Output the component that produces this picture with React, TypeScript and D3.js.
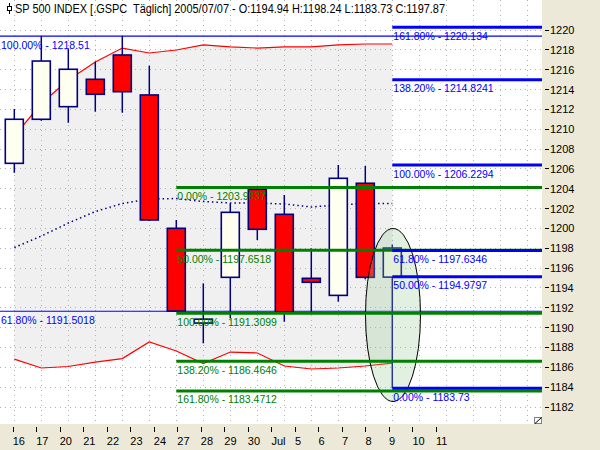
import React from "react";
import * as d3 from "d3";

// ---- data ----
const dates = ["16", "17", "20", "21", "22", "23", "24", "27", "28", "29", "30", "Jul 1", "5", "6", "7"];
const opens = [1206.41, 1210.85, 1212.12, 1214.88, 1217.33, 1213.3, 1199.86, 1190.31, 1194.92, 1203.79, 1201.27, 1194.82, 1193.1, 1204.4, 1194.94];
const highs = [1211.89, 1219.24, 1217.93, 1216.65, 1219.24, 1216.25, 1200.7, 1194.31, 1202.38, 1204.05, 1203.22, 1197.84, 1206.24, 1206.14, 1198.24];
const lows = [1205.46, 1210.7, 1210.5, 1211.61, 1211.51, 1200.6, 1191.45, 1188.27, 1190.82, 1198.68, 1190.44, 1191.45, 1192.46, 1194.72, 1183.73];
const closes = [1210.85, 1216.72, 1215.89, 1213.37, 1213.63, 1200.7, 1191.52, 1190.7, 1201.47, 1199.76, 1191.45, 1194.42, 1204.9, 1194.92, 1197.87];

const upperBand = [1209.16, 1212.44, 1214.81, 1216.62, 1218.03, 1217.53, 1217.83, 1218.34, 1218.14, 1218.03, 1218.14, 1218.14, 1218.34, 1218.44, 1218.44];
const middleBand = [1197.92, 1199.08, 1200.39, 1201.55, 1202.36, 1202.81, 1202.86, 1202.56, 1202.41, 1202.41, 1202.31, 1202.01, 1202.21, 1202.36, 1202.36];
const lowerBand = [1186.68, 1185.78, 1185.93, 1186.38, 1186.73, 1188.4, 1187.49, 1186.23, 1187.39, 1187.29, 1185.98, 1185.68, 1185.78, 1185.98, 1186.28];

const axisLabels = ["16", "17", "20", "21", "22", "23", "24", "27", "28", "29", "30", "Jul", "5", "6", "7", "8", "9", "10", "11"];
const yTicks = [1182, 1184, 1186, 1188, 1190, 1192, 1194, 1196, 1198, 1200, 1202, 1204, 1206, 1208, 1210, 1212, 1214, 1216, 1218, 1220];

// thin blue retracement (full width)
const fibALevels = [1219.24, 1191.5018];
const fibALabels = ["100.00% - 1218.51", "61.80% - 1191.5018"];
// green projection (from 24th)
const fibBLevels = [1203.9837, 1197.6518, 1191.3099, 1186.4646, 1183.4712];
const fibBPcts = ["0.00%", "50.00%", "100.00%", "138.20%", "161.80%"];
// blue projection (from 7th)
const fibCLevels = [1183.73, 1194.9797, 1197.6346, 1206.2294, 1214.8241, 1220.134];
const fibCPcts = ["0.00%", "50.00%", "61.80%", "100.00%", "138.20%", "161.80%"];

const title = "SP 500 INDEX [.GSPC  Täglich] 2005/07/07 - O:1194.94 H:1198.24 L:1183.73 C:1197.87";

export default function App() {
  const W = 600, H = 450;
  const plotR = 542, plotB = 424;
  const y = d3.scaleLinear().domain([1182, 1220]).range([405.5, 28.5]);
  const xi = d3.scaleLinear().domain([0, dates.length - 1]).range([14.3, 392.3]);
  const xAxis = d3.scalePoint<string>().domain(axisLabels).range([12.7, 436]);
  const gridSlots = d3.range(0, 20);
  const font = "'Liberation Sans', Arial, sans-serif";

  const idx = d3.range(dates.length);
  const area = d3.area<number>().x((i) => xi(i)).y0((i) => y(lowerBand[i])).y1((i) => y(upperBand[i]));
  const lineU = d3.line<number>().x((i) => xi(i)).y((i) => y(upperBand[i]));
  const lineM = d3.line<number>().x((i) => xi(i)).y((i) => y(middleBand[i]));
  const lineL = d3.line<number>().x((i) => xi(i)).y((i) => y(lowerBand[i]));

  const navy = "#000080";
  const bodyW = 18;
  const xStartB = xi(6);
  const xStartC = xi(14);

  return (
    <svg width={W} height={H} style={{ position: "fixed", left: 0, top: 0, display: "block" }} fontFamily={font}>
      <rect x={0} y={0} width={W} height={H} fill="#ffffff" />
      {/* band fill */}
      <path d={area(idx) || ""} fill="#f0f0f0" />
      {/* grid */}
      {yTicks.map((t) => (
        <line key={"hg" + t} x1={0} x2={plotR} y1={Math.round(y(t)) + 1.5} y2={Math.round(y(t)) + 1.5} stroke="#b0b0b0" strokeWidth={1} strokeDasharray="1,4" />
      ))}
      {gridSlots.map((i) => (
        <line key={"vg" + i} x1={Math.round(xi(i)) + 0.5} x2={Math.round(xi(i)) + 0.5} y1={0} y2={plotB} stroke="#b0b0b0" strokeWidth={1} strokeDasharray="1,4" />
      ))}
      {/* band lines */}
      <path d={lineU(idx) || ""} fill="none" stroke="#ff0000" strokeWidth={1.2} />
      <path d={lineL(idx) || ""} fill="none" stroke="#ff0000" strokeWidth={1.2} />
      <path d={lineM(idx) || ""} fill="none" stroke={navy} strokeWidth={1.5} strokeDasharray="1.5,3" />
      {/* thin retracement lines */}
      {fibALevels.map((v, k) => (
        <line key={"fa" + k} x1={0} x2={plotR} y1={y(v)} y2={y(v)} stroke="#0000ff" strokeWidth={1.2} />
      ))}
      {/* candles */}
      {idx.map((i) => {
        const up = closes[i] >= opens[i];
        const top = y(Math.max(opens[i], closes[i]));
        const bot = y(Math.min(opens[i], closes[i]));
        const cx = xi(i);
        return (
          <g key={"c" + i}>
            <line x1={cx} x2={cx} y1={y(highs[i])} y2={y(lows[i])} stroke={navy} strokeWidth={1.5} />
            <rect x={cx - bodyW / 2} y={top} width={bodyW} height={Math.max(bot - top, 2)} fill={up ? "#fffff0" : "#ff0000"} stroke={navy} strokeWidth={1.6} />
          </g>
        );
      })}
      {/* ellipse annotation */}
      <ellipse cx={393} cy={315} rx={27.5} ry={86.5} fill="rgba(150,200,150,0.28)" stroke="#000000" strokeWidth={1} />
      {/* thick projection lines */}
      {fibBLevels.map((v, k) => (
        <line key={"fb" + k} x1={xStartB} x2={plotR} y1={y(v)} y2={y(v)} stroke="#008000" strokeWidth={3} />
      ))}
      {fibCLevels.map((v, k) => (
        <line key={"fc" + k} x1={xStartC} x2={plotR} y1={y(v)} y2={y(v)} stroke="#0000ff" strokeWidth={3} />
      ))}
      {/* labels */}
      {fibALevels.map((v, k) => (
        <text key={"fal" + k} x={1} y={y(v) + 12.5} fontSize={10.5} fill="#0000ff">{fibALabels[k]}</text>
      ))}
      {fibBLevels.map((v, k) => (
        <text key={"fbl" + k} x={xStartB + 1} y={y(v) + 12.5} fontSize={10.5} fill="#008000">{fibBPcts[k] + " - " + v}</text>
      ))}
      {fibCLevels.map((v, k) => (
        <text key={"fcl" + k} x={xStartC + 1} y={y(v) + 12.5} fontSize={10.5} fill="#0000ff">{fibCPcts[k] + " - " + v}</text>
      ))}
      {/* title */}
      <line x1={9.5} x2={9.5} y1={3} y2={14} stroke="#000" strokeWidth={1} />
      <rect x={7.5} y={6.5} width={4} height={4} fill="#fff" stroke="#000" strokeWidth={1} />
      <text x={15} y={12.5} fontSize={12} fill="#000" textLength={430} lengthAdjust="spacingAndGlyphs" style={{ whiteSpace: "pre" }}>{title}</text>
      {/* resize grip */}
      <rect x={534.5} y={417.5} width={7} height={6} fill="#ffffff" stroke="#808080" strokeWidth={1} />
      <line x1={535} y1={423.5} x2={541.5} y2={417.5} stroke="#000" strokeWidth={1} />
      {/* axis panels */}
      <rect x={plotR} y={0} width={W - plotR} height={H} fill="#ece9d8" />
      <rect x={0} y={plotB} width={W} height={H - plotB} fill="#ece9d8" />
      {yTicks.map((t) => (
        <g key={"yt" + t}>
          <line x1={545} x2={549} y1={Math.round(y(t)) + 1.5} y2={Math.round(y(t)) + 1.5} stroke="#000" strokeWidth={1} />
          <text x={550} y={y(t) + 5.5} fontSize={11} fill="#000">{t}</text>
        </g>
      ))}
      {axisLabels.map((d) => (
        <g key={"xt" + d}>
          <line x1={Math.round(xAxis(d)!) + 0.5} x2={Math.round(xAxis(d)!) + 0.5} y1={427} y2={432} stroke="#000" strokeWidth={1} />
          <text x={xAxis(d)!} y={445} fontSize={11} fill="#000">{d}</text>
        </g>
      ))}
    </svg>
  );
}
